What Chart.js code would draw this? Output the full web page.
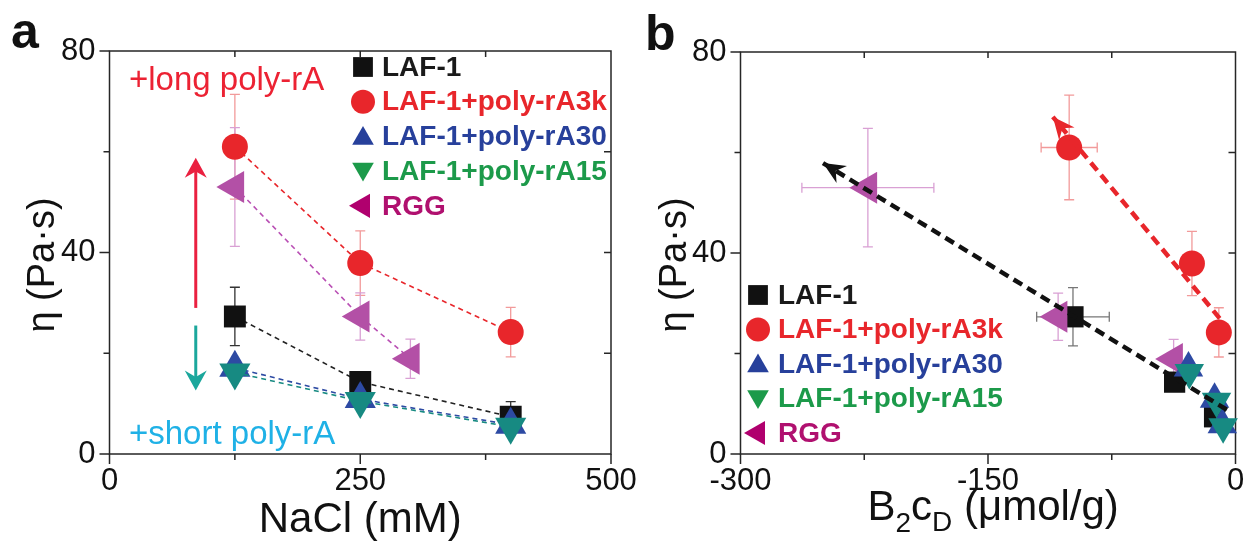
<!DOCTYPE html>
<html><head><meta charset="utf-8">
<script src="https://cdn.jsdelivr.net/npm/chart.js@4.4.1/dist/chart.umd.min.js"></script>
<style>
html,body{margin:0;padding:0;background:#fff;overflow:hidden;}
#wrap{position:relative;width:1254px;height:542px;overflow:hidden;background:#fff;}
#ca{position:absolute;left:0;top:0;}
#cb{position:absolute;left:627px;top:0;}
</style></head><body>
<div id="wrap"><canvas id="ca" width="660" height="542"></canvas><canvas id="cb" width="627" height="542"></canvas></div>
<script>
// ---------------- data ----------------
const seriesNames = ['LAF-1', 'LAF-1+poly-rA3k', 'LAF-1+poly-rA30', 'LAF-1+poly-rA15', 'RGG'];

// panel a: viscosity vs NaCl (mM)
const naclLAF = [125, 250, 400];
const naclRGG = [125, 250, 300];
const etaLAF = [27.3, 14.3, 7.4];
const errLAF = [5.8, 1.5, 3.0];
const etaA3k = [61.0, 37.9, 24.2];
const errA3k = [10.4, 6.4, 4.9];
const etaA30 = [17.1, 10.9, 5.8];
const errA30 = [1.2, 1.0, 0.8];
const etaA15 = [16.2, 10.5, 5.4];
const errA15 = [1.2, 1.0, 0.8];
const etaRGG = [53.0, 27.3, 18.9];
const errRGG = [11.8, 4.7, 3.9];

// panel b: viscosity vs B2cD (umol/g)
const b2LAF = [-98.5, -36.9, -12.7];
const b2errLAF = [22, 2, 2];
const b2A3k = [-100.8, -26.4, -10.1];
const b2errA3k = [17, 2, 2];
const b2A30 = [-28.5, -12.7, -8.0];
const b2A15 = [-28.0, -11.5, -7.5];
const b2RGG = [-222.8, -107.5, -37.5];
const b2errRGG = [40, 3, 3];

// trend arrows in panel b (start, tip)
const trendAllX = [-5.2, -250];
const trendAllY = [8.8, 57.9];
const trendA3kX = [-9.6, -110.7];
const trendA3kY = [27.0, 67.1];

// annotation arrows in panel a
const arrowX = 86;
const arrowLongY = [29.0, 58.8];
const arrowShortY = [25.5, 12.6];

// ticks
const yLabels = [0, 40, 80];
const xLabelsA = [0, 250, 500];
const xLabelsB = [-300, -150, 0];

// ---------------- styles ----------------
const FONT = "'Liberation Sans', Arial, Helvetica, sans-serif";
const markerCol = ['#111111', '#e8262b', '#2d4aa3', '#178a82', '#b350a6'];
const lineCol = ['#222222', '#e8262b', '#2d4aa3', '#178a82', '#b94fb4'];
const legendTextCol = ['#1a1a1a', '#e8262b', '#27409b', '#1c9a4a', '#b0106f'];
const legendMarkCol = ['#111111', '#e8262b', '#27409b', '#1c9a4a', '#b0006e'];
const errCol = ['#555555', '#f29a9a', '#8090d0', '#70c0b8', '#d9a0d4'];
const styles = [['rect', 0], ['circle', 0], ['triangle', 0], ['triangle', 180], ['triangle', -90]];
const radA = [15.5, 13, 18, 18, 18.5];
const radB = [15, 13, 17, 17, 18.5];
const legR = [14, 12, 12.5, 12.5, 14];

const pts = (xs, ys) => xs.map((x, i) => ({x: x, y: ys[i]}));

function drawMarker(ctx, style, rot, r, x, y, color) {
  ctx.save(); ctx.fillStyle = color; ctx.beginPath();
  if (style === 'circle') ctx.arc(x, y, r, 0, Math.PI * 2);
  else if (style === 'rect') { const s = r * Math.SQRT1_2; ctx.rect(x - s, y - s, 2 * s, 2 * s); }
  else {
    let a = rot * Math.PI / 180;
    ctx.moveTo(x + Math.sin(a) * r, y - Math.cos(a) * r);
    for (let k = 0; k < 2; k++) { a += 2 * Math.PI / 3; ctx.lineTo(x + Math.sin(a) * r, y - Math.cos(a) * r); }
    ctx.closePath();
  }
  ctx.fill(); ctx.restore();
}

function barbHead(ctx, tipX, tipY, fromX, fromY, len, wid, color) {
  const dx = tipX - fromX, dy = tipY - fromY, d = Math.hypot(dx, dy);
  const ux = dx / d, uy = dy / d, px = -uy, py = ux;
  const bx = tipX - ux * len, by = tipY - uy * len;
  const nx = tipX - ux * len * 0.68, ny = tipY - uy * len * 0.68;
  ctx.save(); ctx.setLineDash([]);
  ctx.beginPath(); ctx.moveTo(tipX, tipY);
  ctx.lineTo(bx + px * wid / 2, by + py * wid / 2);
  ctx.lineTo(nx, ny);
  ctx.lineTo(bx - px * wid / 2, by - py * wid / 2);
  ctx.closePath(); ctx.fillStyle = color; ctx.fill(); ctx.restore();
}

function drawLegend(ctx, mx, tx, y0, dy) {
  ctx.save();
  ctx.font = 'bold 28px ' + FONT; ctx.textBaseline = 'middle'; ctx.textAlign = 'left';
  seriesNames.forEach((n, i) => {
    const y = y0 + i * dy;
    drawMarker(ctx, styles[i][0], styles[i][1], legR[i], mx, y + (styles[i][1] === 0 && styles[i][0] === 'triangle' ? 2 : (styles[i][1] === 180 ? -2 : 0)), legendMarkCol[i]);
    ctx.fillStyle = legendTextCol[i];
    ctx.fillText(n, tx, y + 1);
  });
  ctx.restore();
}

function scaleOpts(min, max, step, labels, padding, horizontal, size) {
  return {
    type: 'linear', min: min, max: max,
    ticks: {
      stepSize: step, autoSkip: false, maxRotation: 0, minRotation: 0, padding: padding,
      color: '#111', font: {family: FONT, size: 31},
      callback: v => labels.includes(v) ? String(v) : ''
    },
    grid: {display: false, drawTicks: false},
    border: {display: false},
    afterFit: horizontal
      ? s => { s.height = size; s.paddingLeft = 0; s.paddingRight = 0; }
      : s => { s.width = size; s.paddingTop = 0; s.paddingBottom = 0; }
  };
}

function framePlugin(xLabels) {
  return {
    id: 'frame',
    beforeDatasetsDraw(chart) {
      const {ctx, chartArea: {left, right, top, bottom}, scales: {x, y}} = chart;
      ctx.save(); ctx.strokeStyle = '#262626'; ctx.lineWidth = 1.5;
      ctx.strokeRect(left, top, right - left, bottom - top);
      ctx.beginPath();
      x.ticks.forEach(t => {
        const p = x.getPixelForValue(t.value);
        const maj = xLabels.includes(t.value);
        ctx.moveTo(p, bottom); ctx.lineTo(p, bottom + (maj ? 10 : 6));
        if (p > left + 2 && p < right - 2) { ctx.moveTo(p, top); ctx.lineTo(p, top + 6); }
      });
      y.ticks.forEach(t => {
        const p = y.getPixelForValue(t.value);
        const maj = yLabels.includes(t.value);
        ctx.moveTo(left, p); ctx.lineTo(left - (maj ? 10 : 6), p);
        if (p > top + 2 && p < bottom - 2) { ctx.moveTo(right, p); ctx.lineTo(right - 7, p); }
      });
      ctx.stroke(); ctx.restore();
    }
  };
}

function errPlugin(specs) {
  return {
    id: 'errbars',
    beforeDatasetsDraw(chart) {
      const {ctx, scales: {x, y}} = chart;
      ctx.save(); ctx.lineWidth = 1.3;
      specs.forEach(sp => {
        const meta = chart.getDatasetMeta(sp.ds);
        const data = chart.data.datasets[sp.ds].data;
        ctx.strokeStyle = sp.color;
        data.forEach((d, i) => {
          const px = meta.data[i].x, py = meta.data[i].y;
          ctx.beginPath();
          if (sp.yerr) {
            const y1 = y.getPixelForValue(d.y + sp.yerr[i]), y2 = y.getPixelForValue(d.y - sp.yerr[i]);
            ctx.moveTo(px, y1); ctx.lineTo(px, y2);
            ctx.moveTo(px - 5, y1); ctx.lineTo(px + 5, y1);
            ctx.moveTo(px - 5, y2); ctx.lineTo(px + 5, y2);
          }
          if (sp.xerr) {
            const x1 = x.getPixelForValue(d.x - sp.xerr[i]), x2 = x.getPixelForValue(d.x + sp.xerr[i]);
            ctx.moveTo(x1, py); ctx.lineTo(x2, py);
            ctx.moveTo(x1, py - 5); ctx.lineTo(x1, py + 5);
            ctx.moveTo(x2, py - 5); ctx.lineTo(x2, py + 5);
          }
          ctx.stroke();
        });
      });
      ctx.restore();
    }
  };
}

function seriesDataset(i, data, rad, withLine) {
  return {
    label: seriesNames[i], data: data,
    showLine: withLine, borderColor: lineCol[i], borderWidth: 1.6, borderDash: [5, 4],
    pointStyle: styles[i][0], rotation: styles[i][1], pointRadius: rad[i], pointHoverRadius: rad[i],
    pointBackgroundColor: markerCol[i], pointBorderColor: markerCol[i], pointBorderWidth: 0,
    order: [5, 4, 2, 1, 3][i], clip: false
  };
}

// ---------------- panel a ----------------
const textA = {
  id: 'textA',
  afterDraw(chart) {
    const {ctx, chartArea: {left, right}, scales: {x, y}} = chart;
    ctx.save();
    ctx.fillStyle = '#111'; ctx.textAlign = 'left'; ctx.textBaseline = 'alphabetic';
    ctx.font = 'bold 50px ' + FONT; ctx.fillText('a', 11, 48);
    ctx.font = '42px ' + FONT; ctx.textAlign = 'center';
    ctx.fillText('NaCl (mM)', (left + right) / 2, 532);
    ctx.save(); ctx.translate(54, 265); ctx.rotate(-Math.PI / 2);
    ctx.font = '38px ' + FONT; ctx.fillText('\u03b7 (Pa\u00b7s)', 0, 0); ctx.restore();
    ctx.textAlign = 'left'; ctx.font = '33px ' + FONT;
    ctx.fillStyle = '#ec2233'; ctx.fillText('+long poly-rA', 129, 90);
    ctx.fillStyle = '#1fb1e6'; ctx.fillText('+short poly-rA', 129, 444);
    // arrows
    const ax = x.getPixelForValue(arrowX);
    const l0 = y.getPixelForValue(arrowLongY[0]), l1 = y.getPixelForValue(arrowLongY[1]);
    const s0 = y.getPixelForValue(arrowShortY[0]), s1 = y.getPixelForValue(arrowShortY[1]);
    ctx.lineWidth = 3;
    ctx.strokeStyle = '#ea2040'; ctx.beginPath(); ctx.moveTo(ax, l0); ctx.lineTo(ax, l1 + 10); ctx.stroke();
    barbHead(ctx, ax, l1, ax, l0, 20, 22, '#ea2040');
    ctx.strokeStyle = '#1ba79c'; ctx.beginPath(); ctx.moveTo(ax, s0); ctx.lineTo(ax, s1 - 10); ctx.stroke();
    barbHead(ctx, ax, s1, ax, s0, 20, 22, '#1ba79c');
    drawLegend(ctx, 363, 382, 67, 34.7);
    ctx.restore();
  }
};

new Chart(document.getElementById('ca'), {
  type: 'scatter',
  data: {
    datasets: [
      seriesDataset(0, pts(naclLAF, etaLAF), radA, true),
      seriesDataset(1, pts(naclLAF, etaA3k), radA, true),
      seriesDataset(2, pts(naclLAF, etaA30), radA, true),
      seriesDataset(3, pts(naclLAF, etaA15), radA, true),
      seriesDataset(4, pts(naclRGG, etaRGG), radA, true)
    ]
  },
  options: {
    responsive: false, animation: false, devicePixelRatio: 1,
    layout: {padding: {left: 0, top: 51, right: 49, bottom: 0}},
    plugins: {legend: {display: false}, tooltip: {enabled: false}},
    scales: {
      x: scaleOpts(0, 500, 125, xLabelsA, 9, true, 88),
      y: scaleOpts(0, 80, 20, yLabels, 14, false, 109.5)
    }
  },
  plugins: [framePlugin(xLabelsA), errPlugin([
    {ds: 0, yerr: errLAF, color: '#333'},
    {ds: 1, yerr: errA3k, color: errCol[1]},
    {ds: 2, yerr: errA30, color: errCol[2]},
    {ds: 3, yerr: errA15, color: errCol[3]},
    {ds: 4, yerr: errRGG, color: errCol[4]}
  ]), textA]
});

// ---------------- panel b ----------------
const textB = {
  id: 'textB',
  afterDatasetsDraw(chart) {
    const ctx = chart.ctx;
    [[5, '#111'], [6, '#e8262b']].forEach(([ds, col]) => {
      const m = chart.getDatasetMeta(ds).data;
      barbHead(ctx, m[1].x, m[1].y, m[0].x, m[0].y, 22, 20, col);
    });
  },
  afterDraw(chart) {
    const ctx = chart.ctx;
    ctx.save();
    ctx.fillStyle = '#111'; ctx.textAlign = 'left'; ctx.textBaseline = 'alphabetic';
    ctx.font = 'bold 50px ' + FONT; ctx.fillText('b', 18, 50);
    ctx.save(); ctx.translate(58.5, 265); ctx.rotate(-Math.PI / 2); ctx.textAlign = 'center';
    ctx.font = '38px ' + FONT; ctx.fillText('\u03b7 (Pa\u00b7s)', 0, 0); ctx.restore();
    // x title with subscripts
    let xx = 240.5;
    const seg = (t, size, base) => { ctx.font = size + 'px ' + FONT; ctx.fillText(t, xx, base); xx += ctx.measureText(t).width; };
    seg('B', 42, 520); seg('2', 28, 532); seg('c', 42, 520); seg('D', 28, 531); seg(' (\u03bcmol/g)', 42, 520);
    drawLegend(ctx, 131, 151, 295, 34.5);
    ctx.restore();
  }
};

const trendStyle = (col) => ({
  showLine: true, borderColor: col, borderWidth: 4.5, borderDash: [10, 6],
  pointRadius: 0, pointHoverRadius: 0, order: 0, clip: false
});

new Chart(document.getElementById('cb'), {
  type: 'scatter',
  data: {
    datasets: [
      seriesDataset(0, pts(b2LAF, etaLAF), radB, false),
      seriesDataset(1, pts(b2A3k, etaA3k), radB, false),
      seriesDataset(2, pts(b2A30, etaA30), radB, false),
      seriesDataset(3, pts(b2A15, etaA15), radB, false),
      seriesDataset(4, pts(b2RGG, etaRGG), radB, false),
      Object.assign({label: 'trend all', data: pts(trendAllX, trendAllY)}, trendStyle('#111')),
      Object.assign({label: 'trend rA3k', data: pts(trendA3kX, trendA3kY)}, trendStyle('#e8262b'))
    ]
  },
  options: {
    responsive: false, animation: false, devicePixelRatio: 1,
    layout: {padding: {left: 0, top: 52, right: 11.5, bottom: 0}},
    plugins: {legend: {display: false}, tooltip: {enabled: false}},
    scales: {
      x: scaleOpts(-300, 0, 75, xLabelsB, 9, true, 88),
      y: scaleOpts(0, 80, 20, yLabels, 14, false, 113.5)
    }
  },
  plugins: [framePlugin(xLabelsB), errPlugin([
    {ds: 0, yerr: errLAF, xerr: b2errLAF, color: '#777'},
    {ds: 1, yerr: errA3k, xerr: b2errA3k, color: errCol[1]},
    {ds: 4, yerr: errRGG, xerr: b2errRGG, color: errCol[4]}
  ]), textB]
});
</script>
</body></html>
